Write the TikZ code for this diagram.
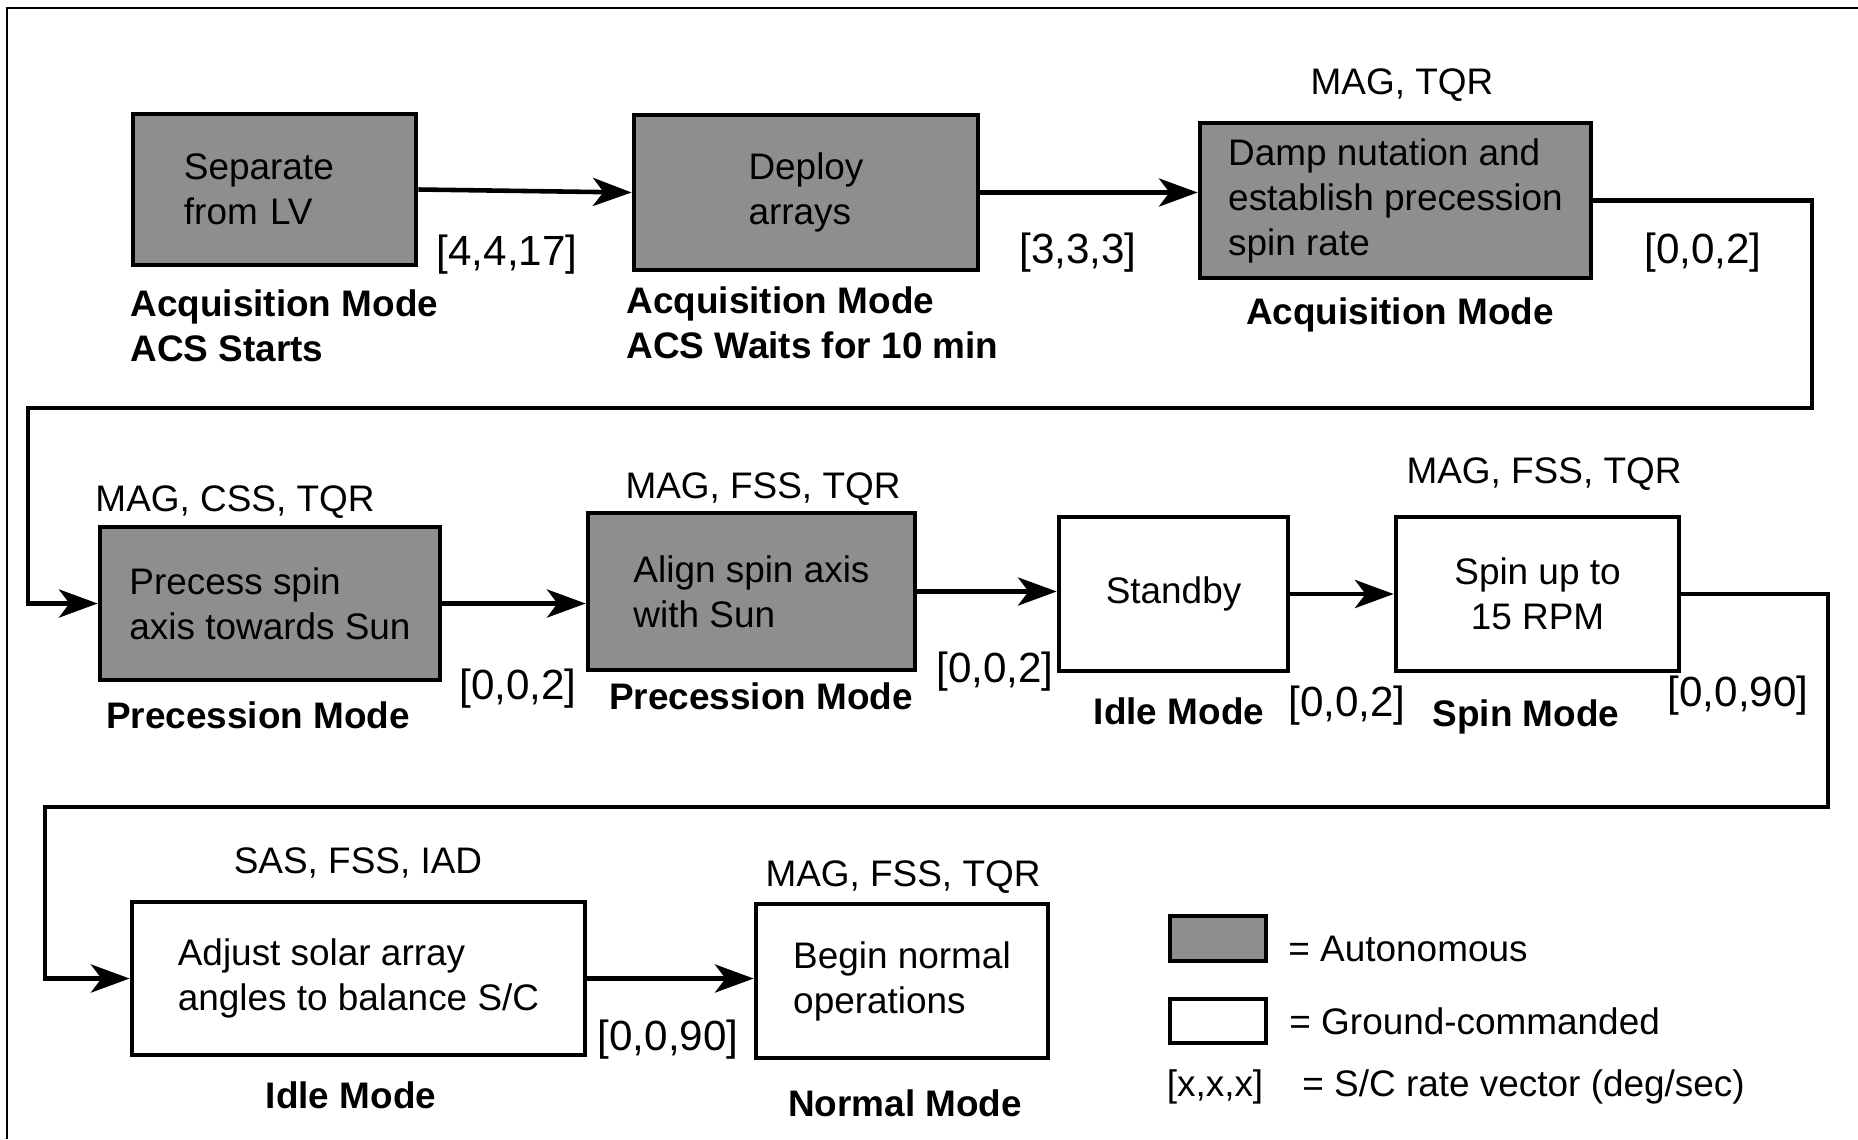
\documentclass[tikz,border=0pt]{standalone}
\usepackage{fontspec}
\setmainfont{Liberation Sans}
\usepackage{tikz}
\usetikzlibrary{arrows.meta}
\definecolor{boxgray}{RGB}{142,142,142}

\begin{document}
\begin{tikzpicture}[x=0.01cm, y=-0.01cm,
    every node/.style={font=\fontsize{10.5}{12.8}\selectfont},
    autobox/.style={draw, line width=1.3pt, fill=boxgray, align=left},
    cmdbox/.style={draw, line width=1.3pt, fill=white, align=left},
    flow/.style={line width=1.3pt, -{Stealth[length=11pt, width=8pt, inset=3pt]}},
    rate/.style={font=\fontsize{12}{14}\selectfont},
    modelabel/.style={font=\bfseries\fontsize{10.5}{12.8}\selectfont, align=left}]
    \useasboundingbox (0,0) rectangle (1858,1139);

    % frame
    \draw[line width=0.6pt] (1858,8) -- (7,8) -- (7,1139);

    % boxes
    \node[autobox, minimum width=2.83cm, minimum height=1.51cm, text width=1.81cm] (sep) at (274.5,189.5) {Separate\\from LV};
    \node[autobox, minimum width=3.44cm, minimum height=1.55cm] (dep) at (806,192.5) {Deploy\\arrays};
    \node[autobox, minimum width=3.91cm, minimum height=1.55cm] (damp) at (1395.5,200.5) {Damp nutation and\\establish precession\\spin rate};
    \node[autobox, minimum width=3.40cm, minimum height=1.53cm] (prec) at (270,603.5) {Precess spin\\axis towards Sun};
    \node[autobox, minimum width=3.27cm, minimum height=1.57cm] (align) at (751.5,591.5) {Align spin axis\\with Sun};
    \node[cmdbox, minimum width=2.29cm, minimum height=1.54cm] (stby) at (1173.5,594) {Standby};
    \node[cmdbox, minimum width=2.83cm, minimum height=1.54cm, align=center] (spin) at (1537.5,594) {Spin up to\\15 RPM};
    \node[cmdbox, minimum width=4.53cm, minimum height=1.53cm] (adj) at (358.5,978.5) {Adjust solar array\\angles to balance S/C};
    \node[cmdbox, minimum width=2.92cm, minimum height=1.54cm] (norm) at (902,981) {Begin normal\\operations};

    % turning points
    \coordinate (r1) at (1812,408);
    \coordinate (l1) at (28,408);
    \coordinate (r2) at (1828,807);
    \coordinate (l2) at (45,807);

    % connectors
    \draw[flow] (sep.east) -- (dep.west);
    \draw[flow] (dep.east) -- (dep.east -| damp.west);
    \draw[flow] (damp.east) -| (r1) -- (l1) |- (prec.west);
    \draw[flow] (prec.east) -- (prec.east -| align.west);
    \draw[flow] (align.east) -- (align.east -| stby.west);
    \draw[flow] (stby.east) -- (stby.east -| spin.west);
    \draw[flow] (spin.east) -| (r2) -- (l2) |- (adj.west);
    \draw[flow] (adj.east) -- (adj.east -| norm.west);

    % sensors
    \node (sdamp) at (1402,85) {MAG, TQR};
    \node (sprec) at (235,502) {MAG, CSS, TQR};
    \node (salign) at (763,489) {MAG, FSS, TQR};
    \node (sspin) at (1544,474) {MAG, FSS, TQR};
    \node (sadj) at (358,863) {SAS, FSS, IAD};
    \node (snorm) at (903,877) {MAG, FSS, TQR};

    % rate vectors
    \node[rate] (v1) at (507,255) {[4,4,17]};
    \node[rate] (v2) at (1078,253) {[3,3,3]};
    \node[rate] (v3) at (1703,253) {[0,0,2]};
    \node[rate] (v4) at (518,689) {[0,0,2]};
    \node[rate] (v5) at (995,672) {[0,0,2]};
    \node[rate] (v6) at (1347,706) {[0,0,2]};
    \node[rate] (v7) at (1738,696) {[0,0,90]};
    \node[rate] (v8) at (668,1040) {[0,0,90]};

    % modes
    \node[modelabel, anchor=west] (msep) at (118,325.5) {Acquisition Mode\\ACS Starts};
    \node[modelabel, anchor=west] (mdep) at (614,323) {Acquisition Mode\\ACS Waits for 10 min};
    \node[modelabel] (mdamp) at (1400,315) {Acquisition Mode};
    \node[modelabel] (mprec) at (258,715) {Precession Mode};
    \node[modelabel] (malign) at (761,696) {Precession Mode};
    \node[modelabel] (mstby) at (1179,711) {Idle Mode};
    \node[modelabel] (mspin) at (1526,717) {Spin Mode};
    \node[modelabel] (madj) at (351,1095) {Idle Mode};
    \node[modelabel] (mnorm) at (905,1103) {Normal Mode};

    % legend
    \node[autobox, minimum width=0.96cm, minimum height=0.45cm] (kauto) at (1218,938.5) {};
    \node[cmdbox, minimum width=0.96cm, minimum height=0.44cm] (kcmd) at (1218,1021) {};
    \node[anchor=west] (tauto) at (1276,949) {= Autonomous};
    \node[anchor=west] (tcmd) at (1277,1021) {= Ground-commanded};
    \node (krate) at (1215,1087) {[x,x,x]};
    \node[anchor=west] (trate) at (1290,1087) {= S/C rate vector (deg/sec)};
\end{tikzpicture}
\end{document}
